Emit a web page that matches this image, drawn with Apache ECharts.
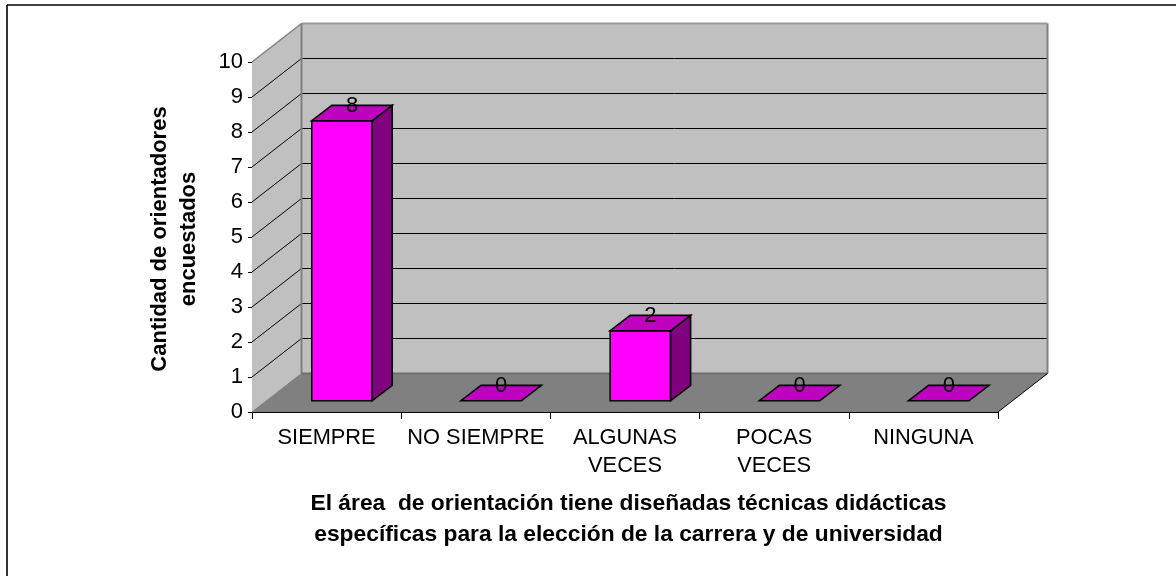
<!DOCTYPE html>
<html>
<head>
<meta charset="utf-8">
<style>html,body{margin:0;padding:0;background:#fff}#c{width:1176px;height:576px}</style>
<script src="https://cdn.jsdelivr.net/npm/echarts@6/dist/echarts.min.js"></script>
</head>
<body>
<div id="c"></div>
<script>
var categories = ['SIEMPRE', 'NO SIEMPRE', 'ALGUNAS\nVECES', 'POCAS\nVECES', 'NINGUNA'];
var values = [8, 0, 2, 0, 0];
var yTicks = [0, 1, 2, 3, 4, 5, 6, 7, 8, 9, 10];
var yTitle = 'Cantidad de orientadores\nencuestados';
var xTitle = 'El área  de orientación tiene diseñadas técnicas didácticas\nespecíficas para la elección de la carrera y de universidad';

var FONT = '"Liberation Sans", Arial, sans-serif';
var DX = 49.5, DY = -38.5;           // wall depth
var BAR_DX0 = 15.4, BAR_DY0 = -11.3; // bar front offset
var BAR_DX1 = 20, BAR_DY1 = -15.3;   // bar depth
var BAR_W = 0.405;

var chart = echarts.init(document.getElementById('c'), null, {renderer: 'canvas'});

function poly(points, fill, stroke, lw) {
  return {type: 'polygon', shape: {points: points},
    style: {fill: fill, stroke: stroke || 'none', lineWidth: lw || 0, lineJoin: 'miter'}};
}
function seg(x1, y1, x2, y2, col, lw) {
  return {type: 'line', shape: {x1: x1, y1: y1, x2: x2, y2: y2},
    style: {stroke: col, lineWidth: lw, fill: 'none'}};
}

function renderWalls(params, api) {
  var cs = params.coordSys;
  var l = cs.x, r = cs.x + cs.width, t = cs.y, b = cs.y + cs.height;
  var kids = [];
  kids.push(poly([[l, b], [l + DX, b + DY], [l + DX, t + DY], [l, t]], '#C0C0C0'));
  kids.push(poly([[l + DX, t + DY], [r + DX, t + DY], [r + DX, b + DY], [l + DX, b + DY]], '#C0C0C0'));
  kids.push(poly([[l, b], [r, b], [r + DX, b + DY], [l + DX, b + DY]], '#808080'));
  yTicks.forEach(function (v) {
    if (v === 0 || v === 10) return;
    var y = api.coord([0, v])[1];
    kids.push(seg(l, y, l + DX, y + DY, '#000', 1));
    kids.push(seg(l + DX, y + DY, r + DX, y + DY, '#000', 1));
  });
  kids.push(seg(l, t, l + DX, t + DY, '#808080', 1.5));
  kids.push(seg(l + DX, t + DY, r + DX, t + DY, '#999', 2));
  kids.push(seg(l + DX, t + DY, l + DX, b + DY, '#808080', 2));
  kids.push(seg(r + DX, t + DY, r + DX, b + DY, '#808080', 2));
  kids.push(seg(l + DX, b + DY, r + DX, b + DY, '#6e6e6e', 2));
  kids.push(seg(l, b, l + DX, b + DY, '#808080', 1));
  kids.push(seg(r, b, r + DX, b + DY, '#000', 1));
  return {type: 'group', children: kids};
}

function renderBar(params, api) {
  var idx = api.value(0), val = api.value(1);
  var top = api.coord([idx, val]), base = api.coord([idx, 0]);
  var band = api.size([1, 0])[0];
  var w = band * BAR_W;
  var x0 = base[0] + BAR_DX0 - w / 2, x1 = x0 + w;
  var yb = base[1] + BAR_DY0, yt = top[1] + BAR_DY0;
  var dx = BAR_DX1, dy = BAR_DY1;
  var kids = [];
  if (val > 0) {
    kids.push(poly([[x0, yt], [x1, yt], [x1, yb], [x0, yb]], '#FF00FF', '#000', 1.6));
    kids.push(poly([[x1, yt], [x1 + dx, yt + dy], [x1 + dx, yb + dy], [x1, yb]], '#800080', '#000', 1.6));
  }
  kids.push(poly([[x0, yt], [x1, yt], [x1 + dx, yt + dy], [x0 + dx, yt + dy]], '#C000C0', '#000', 1.6));
  kids.push({type: 'text', style: {
    x: (x0 + x1) / 2 + dx / 2, y: yt + dy + 1,
    text: String(val), fill: '#000', font: '22px ' + FONT,
    align: 'center', verticalAlign: 'middle'
  }});
  return {type: 'group', children: kids};
}

chart.setOption({
  animation: false,
  backgroundColor: '#fff',
  grid: {left: 252, top: 62, width: 746, height: 350, containLabel: false},
  graphic: [
    {type: 'line', shape: {x1: 7, y1: 5, x2: 1176, y2: 5}, style: {stroke: '#000', lineWidth: 1.6}, silent: true},
    {type: 'line', shape: {x1: 7, y1: 5, x2: 7, y2: 576}, style: {stroke: '#000', lineWidth: 1.6}, silent: true}
  ],
  xAxis: {
    type: 'category',
    data: categories,
    boundaryGap: true,
    axisLine: {show: true, lineStyle: {color: '#000', width: 1}},
    axisTick: {show: true, length: 7, alignWithLabel: false, lineStyle: {color: '#000'}},
    axisLabel: {color: '#000', fontFamily: FONT, fontSize: 21.8, lineHeight: 28, margin: 12, interval: 0},
    splitLine: {show: false},
    name: xTitle,
    nameLocation: 'middle',
    nameGap: 76,
    nameTextStyle: {color: '#000', fontFamily: FONT, fontSize: 22.8, fontWeight: 'bold', lineHeight: 31, align: 'center', padding: [0, 0, 0, 7]}
  },
  yAxis: {
    type: 'value',
    min: 0, max: 10, interval: 1,
    axisLine: {show: true, lineStyle: {color: '#000', width: 1}},
    axisTick: {show: true, length: 4, lineStyle: {color: '#000'}},
    axisLabel: {color: '#000', fontFamily: FONT, fontSize: 22, margin: 9},
    splitLine: {show: false},
    name: yTitle,
    nameLocation: 'middle',
    nameRotate: 90,
    nameGap: 49,
    nameTextStyle: {color: '#000', fontFamily: FONT, fontSize: 22, fontWeight: 'bold', lineHeight: 29, align: 'center', padding: [0, 4, 0, 0]}
  },
  series: [
    {type: 'custom', coordinateSystem: 'cartesian2d', z: 1, silent: true, clip: false,
     renderItem: renderWalls, data: [[0, 0]], encode: {x: 0, y: 1}},
    {type: 'custom', coordinateSystem: 'cartesian2d', z: 5, silent: true, clip: false,
     renderItem: renderBar,
     data: values.map(function (v, i) { return [i, v]; }), encode: {x: 0, y: 1}}
  ]
});
</script>
</body>
</html>
